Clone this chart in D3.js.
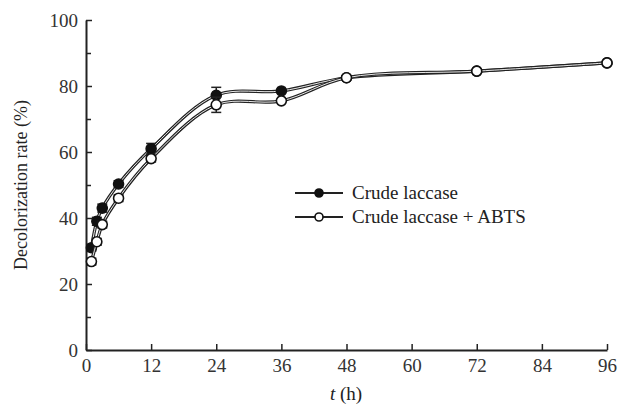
<html>
<head>
<script src="https://d3js.org/d3.v7.min.js"></script>
<style>
body { margin: 0; background: #fff; }
text { font-family: 'Liberation Serif', 'Times New Roman', serif; fill: #222; }
</style>
</head>
<body>
<div id="plot"></div>
<script>
// data
var times = [1, 2, 3, 6, 12, 24, 36, 48, 72, 96];
var crude = [31, 39, 43, 50.3, 61, 77.2, 78.5, 82.5, 84.5, 87];
var crudeErr = [1, 1.2, 1.2, 1, 1.6, 2.4, 0.8, 0.6, 0.6, 0.6];
var abts = [26.8, 32.8, 38, 46, 58, 74.3, 75.5, 82.5, 84.5, 87];
var abtsErr = [1, 1, 1, 1, 1, 2.3, 0.8, 0.6, 0.6, 0.6];
var xTicks = [0, 12, 24, 36, 48, 60, 72, 84, 96];
var yTicks = [0, 20, 40, 60, 80, 100];
var yMinor = [10, 30, 50, 70, 90];

var width = 627, height = 408;
var svg = d3.select("#plot").append("svg").attr("width", width).attr("height", height);

var xScale = d3.scaleLinear().domain([0, 96]).range([86, 607]);
var yScale = d3.scaleLinear().domain([0, 100]).range([350, 20]);

// axes, ticks point inward
var xAxis = d3.axisBottom(xScale).tickValues(xTicks).tickSizeInner(-6).tickSizeOuter(0).tickPadding(9);
var gx = svg.append("g").attr("transform", "translate(0," + yScale(0) + ")").call(xAxis);
var yAxis = d3.axisLeft(yScale).tickValues(yTicks).tickSizeInner(-6).tickSizeOuter(0).tickPadding(8);
var gy = svg.append("g").attr("transform", "translate(" + xScale(0) + ",0)").call(yAxis);
svg.append("g").attr("transform", "translate(" + xScale(0) + ",0)")
  .call(d3.axisLeft(yScale).tickValues(yMinor).tickSizeInner(-5).tickSizeOuter(0).tickFormat(""))
  .select(".domain").remove();

[gx, gy].forEach(function (g) {
  g.attr("font-family", "Liberation Serif, serif").attr("font-size", 19);
});
svg.selectAll(".domain").style("stroke", "#222").style("stroke-width", 2);
svg.selectAll(".tick line").style("stroke", "#222").style("stroke-width", 1.5);
svg.selectAll(".tick text").style("fill", "#333");
gy.selectAll(".tick text").attr("dy", "0.35em");

svg.append("text").attr("x", 346).attr("y", 400).attr("text-anchor", "middle")
  .style("font-size", "19px")
  .html("<tspan font-style='italic'>t</tspan> (h)");
svg.append("text").attr("transform", "translate(27,185) rotate(-90)").attr("text-anchor", "middle")
  .style("font-size", "18px").text("Decolorization rate (%)");

function series(vals, errs, filled) {
  var pts = times.map(function (t, i) { return { x: t, y: vals[i], e: errs[i] }; });
  var line = d3.line().x(d => xScale(d.x)).y(d => yScale(d.y)).curve(d3.curveCatmullRom.alpha(0.5));
  // double-stroke look: dark line with thin white core
  svg.append("path").attr("d", line(pts)).style("fill", "none").style("stroke", "#222").style("stroke-width", 3.2);
  svg.append("path").attr("d", line(pts)).style("fill", "none").style("stroke", "#fff").style("stroke-width", 0.9);
  var g = svg.append("g");
  pts.forEach(function (d) {
    if (d.e > 0.9) {
      var x = xScale(d.x), y0 = yScale(d.y - d.e), y1 = yScale(d.y + d.e);
      g.append("line").attr("x1", x).attr("x2", x).attr("y1", y0).attr("y2", y1).style("stroke", "#222").style("stroke-width", 1.5);
      [y0, y1].forEach(function (yy) {
        g.append("line").attr("x1", x - 5).attr("x2", x + 5).attr("y1", yy).attr("y2", yy).style("stroke", "#222").style("stroke-width", 1.5);
      });
    }
  });
  g.selectAll("circle").data(pts).enter().append("circle")
    .attr("cx", d => xScale(d.x)).attr("cy", d => yScale(d.y)).attr("r", 5)
    .style("fill", filled ? "#111" : "#fff").style("stroke", "#111").style("stroke-width", 1.6);
}
series(crude, crudeErr, true);
series(abts, abtsErr, false);

// legend
var legend = [{ name: "Crude laccase", filled: true }, { name: "Crude laccase + ABTS", filled: false }];
legend.forEach(function (d, i) {
  var y = 193 + i * 24;
  svg.append("line").attr("x1", 295).attr("x2", 343).attr("y1", y).attr("y2", y).style("stroke", "#222").style("stroke-width", 2);
  svg.append("circle").attr("cx", 319).attr("cy", y).attr("r", 4)
    .style("fill", d.filled ? "#111" : "#fff").style("stroke", "#111").style("stroke-width", 1.6);
  svg.append("text").attr("x", 352).attr("y", y + 6).style("font-size", "19px").text(d.name);
});
</script>
</body>
</html>
